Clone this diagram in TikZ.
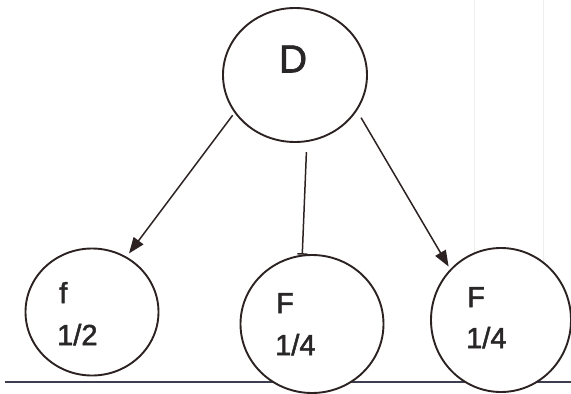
\documentclass[tikz,border=0pt]{standalone}
\usepackage{fontspec}
\setmainfont{Liberation Sans}
\newfontfamily\heavyfont{Liberation Sans}[FakeBold=1.7]
\usepackage{tikz}
\usetikzlibrary{arrows.meta,shapes.geometric}
\definecolor{inkdark}{RGB}{45,34,34}
\definecolor{inktext}{RGB}{40,38,38}
\definecolor{scanline}{RGB}{60,62,80}
\definecolor{scanfaint}{RGB}{238,238,238}

\begin{document}
\begin{tikzpicture}[x=1pt,y=-1pt,
  bubble/.style={draw=inkdark, line width=1.9pt, fill=white, ellipse, inner sep=0pt},
  lbl/.style={inktext, inner sep=0pt, anchor=base west, font=\heavyfont\fontsize{29}{33}\selectfont},
  edge/.style={draw=inkdark, line width=1.5pt}]
\useasboundingbox (0,0) rectangle (571,394);

% Scan marks
\draw[scanfaint, line width=1pt] (474,0) -- (474,308);
\draw[scanfaint, line width=1pt] (543,0) -- (543,300);

% Base line
\draw[scanline, line width=1.3pt] (5,382) -- (571,382);

% Bubbles
\node[bubble, minimum width=144pt, minimum height=134pt] (D) at (295,75) {};
\node[bubble, minimum width=133pt, minimum height=127pt] (f) at (92,312) {};
\node[bubble, minimum width=143pt, minimum height=138pt] (F1) at (312,324) {};
\node[bubble, minimum width=140pt, minimum height=144pt] (F2) at (501,320) {};

% Labels
\node[inktext, inner sep=0pt, font=\heavyfont\fontsize{39}{44}\selectfont] (Dlbl) at (293,59) {D};
\node[lbl] (fsym) at (59,303) {f};
\node[lbl] (fval) at (57,345) {1/2};
\node[lbl] (F1sym) at (276,313) {F};
\node[lbl] (F1val) at (275,355) {1/4};
\node[lbl] (F2sym) at (467,307) {F};
\node[lbl] (F2val) at (466,348) {1/4};

% Connectors
\draw[edge, -{Triangle[length=16pt,width=12pt]}, shorten <=3pt, shorten >=4pt] (D.212.8) -- (f.58.5);
\draw[edge, -{Bar[width=10pt]}, shorten <=10pt] (D.-80.4) -- (F1.98.2);
\draw[edge, -{Triangle[length=16pt,width=12pt]}, shorten <=8pt, shorten >=3pt] (D.-30.8) -- (F2.135.5);
\end{tikzpicture}
\end{document}
